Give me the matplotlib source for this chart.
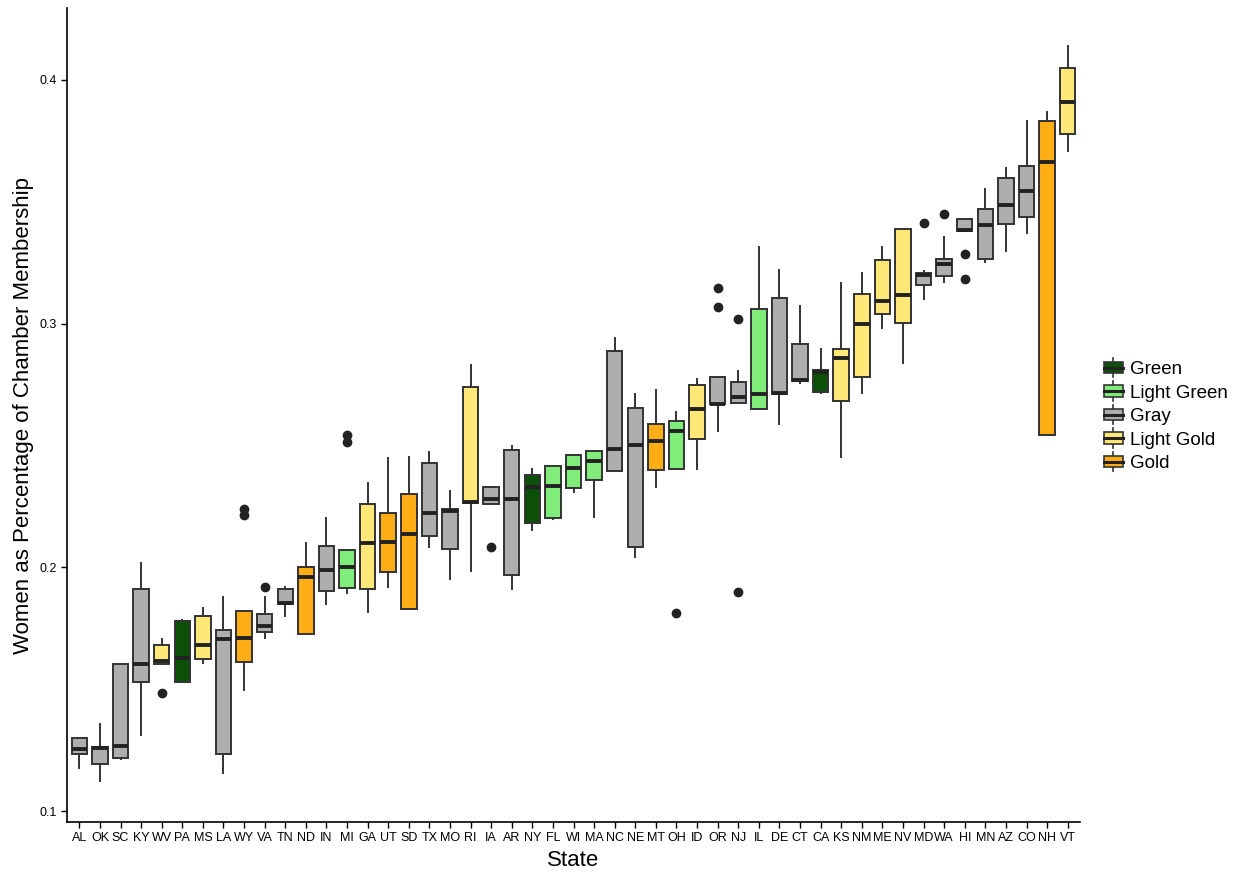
import matplotlib
matplotlib.use("Agg")
import matplotlib.pyplot as plt
from matplotlib.patches import Rectangle
from matplotlib.lines import Line2D
from matplotlib.legend_handler import HandlerBase

plt.rcParams['font.family'] = ['Liberation Sans', 'DejaVu Sans']

# states ordered by median share of women in the chamber
states = ["AL", "OK", "SC", "KY", "WV", "PA", "MS", "LA", "WY", "VA", "TN", "ND",
          "IN", "MI", "GA", "UT", "SD", "TX", "MO", "RI", "IA", "AR", "NY", "FL",
          "WI", "MA", "NC", "NE", "MT", "OH", "ID", "OR", "NJ", "IL", "DE", "CT",
          "CA", "KS", "NM", "ME", "NV", "MD", "WA", "HI", "MN", "AZ", "CO", "NH", "VT"]
groups = ["Gray", "Gray", "Gray", "Gray", "Light Gold", "Green", "Light Gold", "Gray",
          "Gold", "Gray", "Gray", "Gold", "Gray", "Light Green", "Light Gold", "Gold",
          "Gold", "Gray", "Gray", "Light Gold", "Gray", "Gray", "Green", "Light Green",
          "Light Green", "Light Green", "Gray", "Gray", "Gold", "Light Green", "Light Gold",
          "Gray", "Gray", "Light Green", "Gray", "Gray", "Green", "Light Gold", "Light Gold",
          "Light Gold", "Light Gold", "Gray", "Gray", "Gray", "Gray", "Gray", "Gray",
          "Gold", "Light Gold"]
whisk_lo = [0.1175, 0.1123, 0.1212, 0.1312, 0.1605, 0.1530, 0.1606, 0.1157, 0.1497,
            0.1711, 0.1800, 0.1728, 0.1848, 0.1893, 0.1818, 0.1921, 0.1828, 0.2085,
            0.1951, 0.1984, 0.2261, 0.1911, 0.2153, 0.2197, 0.2310, 0.2208, 0.2395,
            0.2044, 0.2331, 0.2402, 0.2404, 0.2559, 0.2674, 0.2649, 0.2589, 0.2755,
            0.2714, 0.2454, 0.2714, 0.2981, 0.2837, 0.3102, 0.3170, 0.3380, 0.3252,
            0.3298, 0.3371, 0.2543, 0.3709]
q1 = [0.1233, 0.1194, 0.1218, 0.1528, 0.1605, 0.1530, 0.1625, 0.1233, 0.1611,
      0.1736, 0.1848, 0.1728, 0.1903, 0.1917, 0.1913, 0.1981, 0.1828, 0.2129,
      0.2074, 0.2265, 0.2261, 0.1969, 0.2183, 0.2201, 0.2327, 0.2358, 0.2395,
      0.2085, 0.2399, 0.2402, 0.2527, 0.2669, 0.2674, 0.2649, 0.2713, 0.2763,
      0.2720, 0.2681, 0.2780, 0.3041, 0.3001, 0.3159, 0.3196, 0.3380, 0.3267,
      0.3410, 0.3438, 0.2543, 0.3780]
med = [0.1253, 0.1260, 0.1266, 0.1605, 0.1616, 0.1628, 0.1680, 0.1707, 0.1709,
       0.1759, 0.1855, 0.1959, 0.1988, 0.2003, 0.2099, 0.2103, 0.2138, 0.2224,
       0.2232, 0.2268, 0.2279, 0.2280, 0.2329, 0.2335, 0.2406, 0.2438, 0.2487,
       0.2501, 0.2520, 0.2561, 0.2649, 0.2672, 0.2698, 0.2710, 0.2715, 0.2769,
       0.2802, 0.2860, 0.2997, 0.3092, 0.3116, 0.3200, 0.3243, 0.3384, 0.3404,
       0.3486, 0.3544, 0.3663, 0.3910]
q3 = [0.1301, 0.1263, 0.1602, 0.1910, 0.1681, 0.1780, 0.1802, 0.1744, 0.1820,
      0.1808, 0.1911, 0.2003, 0.2088, 0.2072, 0.2259, 0.2223, 0.2301, 0.2429,
      0.2241, 0.2740, 0.2331, 0.2483, 0.2378, 0.2417, 0.2462, 0.2476, 0.2888,
      0.2654, 0.2589, 0.2601, 0.2747, 0.2780, 0.2761, 0.3060, 0.3107, 0.2915,
      0.2809, 0.2895, 0.3122, 0.3261, 0.3388, 0.3208, 0.3264, 0.3431, 0.3471,
      0.3598, 0.3646, 0.3833, 0.4048]
whisk_hi = [0.1301, 0.1358, 0.1602, 0.2017, 0.1706, 0.1784, 0.1834, 0.1879, 0.1820,
            0.1879, 0.1920, 0.2101, 0.2202, 0.2072, 0.2345, 0.2450, 0.2452, 0.2472,
            0.2313, 0.2830, 0.2331, 0.2499, 0.2402, 0.2417, 0.2462, 0.2476, 0.2941,
            0.2710, 0.2728, 0.2636, 0.2772, 0.2780, 0.2807, 0.3313, 0.3220, 0.3072,
            0.2895, 0.3166, 0.3207, 0.3315, 0.3388, 0.3217, 0.3357, 0.3431, 0.3551,
            0.3638, 0.3830, 0.3869, 0.4139]
outliers = {
    "WV": [0.1486],
    "WY": [0.2239, 0.2215],
    "VA": [0.1919],
    "MI": [0.2543, 0.2516],
    "IA": [0.2085],
    "OH": [0.1811],
    "OR": [0.3148, 0.3070],
    "NJ": [0.3019, 0.1899],
    "MD": [0.3412],
    "WA": [0.3450],
    "HI": [0.3286, 0.3183],
}

palette = {"Green": "#0b5006", "Light Green": "#80ed7a", "Gray": "#aeaeae",
           "Light Gold": "#ffe877", "Gold": "#ffad14"}
edge = "#333333"

stats = []
for i, s in enumerate(states):
    stats.append(dict(label=s, whislo=whisk_lo[i], q1=q1[i], med=med[i], q3=q3[i],
                      whishi=whisk_hi[i], fliers=outliers.get(s, [])))

fig = plt.figure(figsize=(12.43, 8.72), dpi=100)
ax = fig.add_axes([0.0539, 0.0573, 0.815, 0.9335])

bp = ax.bxp(stats, positions=range(len(states)), widths=0.75, patch_artist=True,
            showcaps=False,
            boxprops=dict(edgecolor=edge, linewidth=1.4),
            medianprops=dict(color="#222222", linewidth=2.8, solid_capstyle="butt"),
            whiskerprops=dict(color=edge, linewidth=1.4),
            flierprops=dict(marker="o", markerfacecolor="#222222",
                            markeredgecolor="#222222", markersize=6))
for box, g in zip(bp["boxes"], groups):
    box.set_facecolor(palette[g])

ax.set_xlim(-0.6, len(states) - 0.4)
ax.set_ylim(0.0955, 0.4295)
ax.set_yticks([0.1, 0.2, 0.3, 0.4])
ax.set_yticklabels(["0.1", "0.2", "0.3", "0.4"])
ax.set_xticks(range(len(states)))
ax.set_xticklabels(states)
ax.tick_params(labelsize=9, length=4, width=1, colors="black")

for side in ["top", "right"]:
    ax.spines[side].set_visible(False)
for side in ["left", "bottom"]:
    ax.spines[side].set_linewidth(1.2)

ax.set_xlabel("State", fontsize=16)
ax.set_ylabel("Women as Percentage of Chamber Membership", fontsize=16)


class BoxKey(HandlerBase):
    # small boxplot glyph for the legend keys
    def create_artists(self, legend, orig_handle, xdescent, ydescent, width, height,
                       fontsize, trans):
        x0, y0 = -xdescent, -ydescent
        bh = height * 0.68
        by = y0 + (height - bh) / 2
        rect = Rectangle((x0, by), width, bh, facecolor=orig_handle.get_facecolor(),
                         edgecolor=edge, linewidth=1.2, transform=trans)
        mid = Line2D([x0, x0 + width], [y0 + height / 2] * 2, color="#222222",
                     linewidth=2.2, transform=trans)
        top = Line2D([x0 + width / 2] * 2, [by + bh, y0 + height + 1], color=edge,
                     linewidth=1.2, transform=trans)
        bot = Line2D([x0 + width / 2] * 2, [y0 - 1, by], color=edge,
                     linewidth=1.2, transform=trans)
        return [top, bot, rect, mid]


handles = [Rectangle((0, 0), 1, 1, facecolor=palette[k]) for k in palette]
fig.legend(handles, list(palette.keys()), handler_map={Rectangle: BoxKey()},
           loc="upper left", bbox_to_anchor=(0.888, 0.588), frameon=False,
           fontsize=13.5, handlelength=1.0, handleheight=1.0, handletextpad=0.4,
           labelspacing=0.25, borderpad=0, borderaxespad=0)

fig.savefig("out.png", dpi=100)
